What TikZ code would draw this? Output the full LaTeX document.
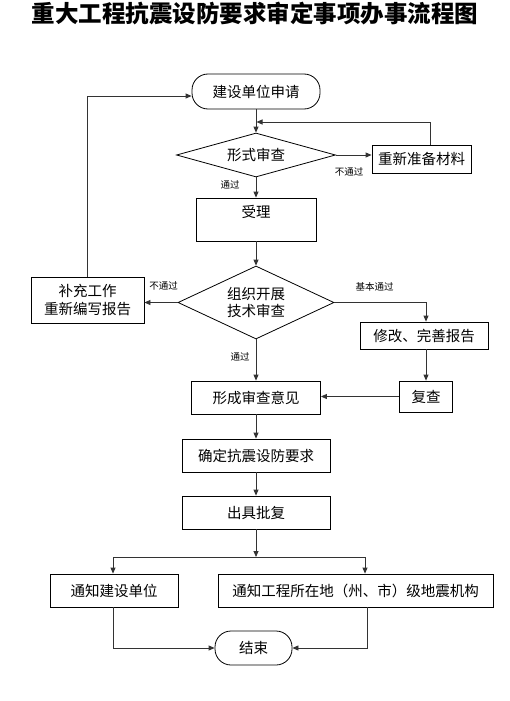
\documentclass[tikz,border=0pt]{standalone}
\usepackage{fontspec}
\setmainfont{Noto Sans CJK SC}
\usetikzlibrary{shapes.geometric,arrows.meta}
\begin{document}
\begin{tikzpicture}[x=1pt,y=-1pt,
  box/.style={draw=black,line width=0.8pt,rectangle,inner sep=0pt,font=\fontsize{14.5}{18}\selectfont,align=center},
  term/.style={box,rounded corners=16pt},
  dec/.style={draw=black,line width=0.8pt,diamond,inner sep=0pt,font=\fontsize{14.5}{17}\selectfont,align=center},
  arr/.style={draw=black!80,line width=0.8pt,-{Triangle[length=6pt,width=5pt]}},
  ln/.style={draw=black!80,line width=0.8pt},
  lab/.style={inner sep=0pt,font=\fontsize{9.5}{11}\selectfont}]
\useasboundingbox (0,0) rectangle (510,701);
\node[inner sep=0pt,font=\fontsize{23.5}{28}\selectfont\bfseries] (title) at (255,14) {重大工程抗震设防要求审定事项办事流程图};
\node[term,minimum width=128pt,minimum height=35pt] (start) at (256,91.5) {建设单位申请};
\node[dec,aspect=3.6,minimum width=159pt,minimum height=44pt] (d1) at (256,155) {形式审查};
\node[box,minimum width=99pt,minimum height=28pt] (re) at (421.5,159) {重新准备材料};
\node[box,minimum width=120pt,minimum height=43pt] (sl) at (256,219.5) {};
\node[inner sep=0pt,font=\fontsize{14.5}{18}\selectfont] (sltext) at (256,212) {受理};
\node[dec,aspect=2.1,minimum width=156pt,minimum height=73pt] (d2) at (256,302.5) {组织开展\\技术审查};
\node[box,minimum width=113pt,minimum height=46pt] (bc) at (87.5,300) {补充工作\\重新编写报告};
\node[box,minimum width=128pt,minimum height=27pt] (xg) at (424,335.5) {修改、完善报告};
\node[box,minimum width=53pt,minimum height=31pt] (fc) at (426,396.5) {复查};
\node[box,minimum width=129pt,minimum height=33pt] (xc) at (256,397.5) {形成审查意见};
\node[box,minimum width=148pt,minimum height=33pt] (qd) at (256,455.5) {确定抗震设防要求};
\node[box,minimum width=148pt,minimum height=33pt] (cj) at (256,512.5) {出具批复};
\node[box,minimum width=128pt,minimum height=33pt] (tz1) at (114,590.5) {通知建设单位};
\node[box,minimum width=275pt,minimum height=33pt] (tz2) at (355.5,590.5) {通知工程所在地（州、市）级地震机构};
\node[term,minimum width=77pt,minimum height=34pt] (end) at (253.5,648) {结束};
% labels
\node[lab] (l1) at (349,172) {不通过};
\node[lab] (l2) at (230,185) {通过};
\node[lab] (l3) at (163.5,286) {不通过};
\node[lab] (l4) at (374.5,287) {基本通过};
\node[lab] (l5) at (240,357) {通过};
% coordinates
\coordinate (j1) at (256.5,122);
\coordinate (br) at (256,557);
\coordinate (bL) at (113,557);
\coordinate (bR) at (365,557);
\coordinate (xR) at (426,0);
% connectors
\draw[arr] (start) -- (d1);
\draw[arr] (d1.east) -- (re.west |- d1.east);
\draw[arr] ([xshift=8.5pt]re.north) |- (j1);
\draw[arr] (d1) -- (sl);
\draw[arr] (sl) -- (d2);
\draw[arr] (d2.west) -- (bc.east |- d2.west);
\draw[arr] (bc.north) |- ([yshift=-4.5pt]start.west);
\draw[arr] (d2.east) -| (xg.north -| xR);
\draw[arr] (xg.south -| fc.north) -- (fc.north);
\draw[arr] (fc.west) -- (xc.east |- fc.west);
\draw[arr] (d2) -- (xc);
\draw[arr] (xc) -- (qd);
\draw[arr] (qd) -- (cj);
\draw[arr] (cj) -- (br);
\draw[ln] (bL) -- (bR);
\draw[arr] (bL) -- (tz1.north -| bL);
\draw[arr] (bR) -- (tz2.north -| bR);
\draw[arr] (tz1.south -| bL) |- (end.west);
\draw[arr] ([xshift=11.5pt]tz2.south) |- (end.east);
\end{tikzpicture}
\end{document}
